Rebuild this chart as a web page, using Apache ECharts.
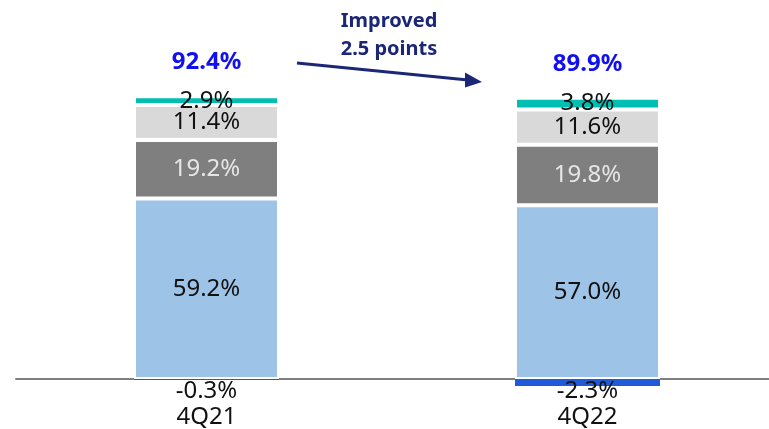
<!DOCTYPE html>
<html>
<head>
<meta charset="utf-8">
<script src="https://cdn.jsdelivr.net/npm/echarts@6/dist/echarts.min.js"></script>
<style>
html,body{margin:0;padding:0;background:#fff;}
#chart{width:769px;height:429px;}
</style>
</head>
<body>
<div id="chart"></div>
<script>
const categories = ['4Q21', '4Q22'];
const baseValues = [59.2, 57.0];
const darkGrayValues = [19.2, 19.8];
const lightGrayValues = [11.4, 11.6];
const tealValues = [2.9, 3.8];
const negativeValues = [-0.3, -2.3];
const totals = [92.4, 89.9];
const annotationLines = ['Improved', '2.5 points'];

const FONT = 'Noto Sans';
const chart = echarts.init(document.getElementById('chart'));

function seg(name, data, color, labelColor) {
  return {
    name, type: 'bar', stack: 'total', data, barWidth: 145,
    itemStyle: { color, borderColor: '#fff', borderWidth: 2 },
    label: {
      show: true, position: 'inside', color: labelColor,
      fontFamily: FONT, fontSize: 24, lineHeight: 24,
      formatter: p => p.value.toFixed(1) + '%'
    }
  };
}

const option = {
  animation: false,
  grid: { left: 16, width: 762, top: 74, height: 320.25, outerBoundsMode: 'none', containLabel: false },
  xAxis: {
    type: 'category', data: categories,
    axisLine: { onZero: true, lineStyle: { color: '#808080', width: 2 } },
    axisTick: { show: false },
    axisLabel: { color: '#111', fontFamily: FONT, fontSize: 24, lineHeight: 24, margin: 11 }
  },
  yAxis: { type: 'value', min: -5, max: 100, show: false, splitLine: { show: false } },
  series: [
    seg('Base', baseValues, '#9DC3E6', '#111'),
    seg('Dark', darkGrayValues, '#7F7F7F', '#E6E6E6'),
    seg('Light', lightGrayValues, '#D9D9D9', '#111'),
    seg('Teal', tealValues, '#00BFB2', '#111'),
    {
      name: 'Total', type: 'bar', stack: 'total', data: categories.map(() => 0), barWidth: 145,
      itemStyle: { color: 'transparent' },
      label: {
        show: true, position: 'top', distance: 22, color: '#1010F0',
        fontFamily: FONT, fontSize: 24, fontWeight: 'bold', lineHeight: 24,
        formatter: p => totals[p.dataIndex].toFixed(1) + '%'
      }
    },
    {
      name: 'Negative', type: 'bar', stack: 'total', data: negativeValues, barWidth: 145,
      itemStyle: { color: '#1F5BD8' },
      label: {
        show: true, position: 'insideTop', distance: 0, color: '#111',
        fontFamily: FONT, fontSize: 24, lineHeight: 24,
        formatter: p => p.value.toFixed(1) + '%'
      }
    }
  ],
  graphic: [
    {
      type: 'text', x: 389, y: 7,
      style: { text: annotationLines.join('\n'), fill: '#1B2677', font: 'bold 20px "Noto Sans"', lineHeight: 28, textAlign: 'center', textVerticalAlign: 'top' }
    },
    { type: 'line', shape: { x1: 297, y1: 63, x2: 468, y2: 80 }, style: { stroke: '#1B2677', lineWidth: 3 } },
    { type: 'polygon', shape: { points: [[482, 82], [465, 72.5], [465, 87.5]] }, style: { fill: '#1B2677' } }
  ]
};
chart.setOption(option);
</script>
</body>
</html>
